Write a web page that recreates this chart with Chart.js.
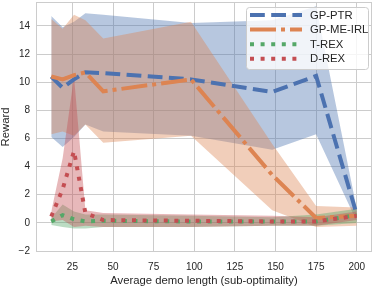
<!DOCTYPE html>
<html lang="en">
<head>
    <meta charset="UTF-8">
    <title>Reward vs demo length</title>
    <style>
        html, body { margin: 0; padding: 0; background: #ffffff; }
        canvas { display: block; }
    </style>
</head>
<body>
    <canvas id="rewardChart" width="374" height="286"></canvas>

    <script src="https://cdn.jsdelivr.net/npm/chart.js"></script>
    <script>
        // Average demo length of each run
        const demoLengths = [12, 19, 26, 33, 44, 98, 148, 175, 200];

        // GP-PTR
        const ptrMean  = [10.4, 9.6, 10.2, 10.7, 10.65, 10.2, 9.3, 10.45, 0.6];
        const ptrUpper = [14.7, 13.9, 14.3, 14.9, 14.8, 14.2, 14.4, 15.4, 1.0];
        const ptrLower = [6.1, 5.4, 6.1, 7.0, 6.5, 6.2, 5.2, 6.3, 0.1];

        // GP-ME-IRL
        const meMean  = [10.4, 10.2, 10.5, 10.7, 9.35, 10.2, 3.4, 0.35, 0.5];
        const meUpper = [14.5, 13.8, 14.8, 14.4, 13.1, 14.3, 5.6, 1.2, 1.1];
        const meLower = [6.3, 6.5, 6.2, 7.0, 5.7, 6.2, 0.9, -0.3, -0.2];

        // T-REX
        const trexMean  = [0.1, 0.55, 0.25, 0.1, 0.15, 0.1, 0.1, 0.1, 0.55];
        const trexUpper = [0.35, 1.3, 0.8, 0.6, 0.6, 0.5, 0.4, 0.6, 1.0];
        const trexLower = [-0.15, -0.3, -0.4, -0.4, -0.3, -0.3, -0.2, -0.2, 0.0];

        // D-REX
        const drexMean  = [0.45, 2.4, 5.1, 0.7, 0.2, 0.15, 0.1, 0.1, 0.5];
        const drexUpper = [0.8, 4.6, 10.4, 0.9, 0.7, 0.6, 0.5, 0.4, 0.8];
        const drexLower = [0.1, 0.2, -0.3, -0.2, -0.3, -0.3, -0.2, -0.2, 0.2];

        const xTicks = [25, 50, 75, 100, 125, 150, 175, 200];
        const yTicks = [-2, 0, 2, 4, 6, 8, 10, 12, 14];
        const seriesNames = ['GP-PTR', 'GP-ME-IRL', 'T-REX', 'D-REX'];

        const colors = ['#4c72b0', '#dd8452', '#55a868', '#c44e52'];
        const bandColors = [
            'rgba(76, 114, 176, 0.4)',
            'rgba(221, 132, 82, 0.4)',
            'rgba(85, 168, 104, 0.4)',
            'rgba(196, 78, 82, 0.4)'
        ];
        const dashes = [[14.8, 6.4], [26, 5, 4, 5], [4, 6.6], [4, 6.6]];

        const textColor = '#262626';
        const gridColor = '#cccccc';
        const fontFamily = '"Liberation Sans", Arial, sans-serif';

        function pts(arr) {
            return arr.map((y, i) => ({ x: demoLengths[i], y: y }));
        }

        const means = [ptrMean, meMean, trexMean, drexMean];
        const uppers = [ptrUpper, meUpper, trexUpper, drexUpper];
        const lowers = [ptrLower, meLower, trexLower, drexLower];

        // bands first (upper fills down to the lower one right after it), then the lines
        const datasets = [];
        for (let i = 0; i < 4; i++) {
            datasets.push({
                label: seriesNames[i] + ' upper',
                data: pts(uppers[i]),
                borderColor: 'transparent',
                borderWidth: 0,
                pointRadius: 0,
                backgroundColor: bandColors[i],
                fill: '+1',
                order: 20 - i * 2
            });
            datasets.push({
                label: seriesNames[i] + ' lower',
                data: pts(lowers[i]),
                borderColor: 'transparent',
                borderWidth: 0,
                pointRadius: 0,
                fill: false,
                order: 19 - i * 2
            });
        }
        for (let i = 0; i < 4; i++) {
            datasets.push({
                label: seriesNames[i],
                data: pts(means[i]),
                borderColor: colors[i],
                borderWidth: 4,
                borderDash: dashes[i],
                borderCapStyle: 'butt',
                pointRadius: 0,
                fill: false,
                order: 3 - i
            });
        }

        // light grey frame round the plot, like the seaborn whitegrid style
        const framePlugin = {
            id: 'frame',
            beforeDatasetsDraw(chart) {
                const a = chart.chartArea;
                const ctx = chart.ctx;
                ctx.save();
                ctx.strokeStyle = gridColor;
                ctx.lineWidth = 1;
                ctx.strokeRect(a.left + 0.5, a.top + 0.5, a.right - a.left - 1, a.bottom - a.top - 1);
                ctx.restore();
            }
        };

        // legend with the dash patterns of the lines
        const legendPlugin = {
            id: 'dashLegend',
            afterDraw(chart) {
                const ctx = chart.ctx;
                const bx = 246, by = 7, bw = 122, bh = 62;
                ctx.save();
                ctx.beginPath();
                ctx.roundRect(bx + 0.5, by + 0.5, bw, bh, 3);
                ctx.fillStyle = 'rgba(255, 255, 255, 0.8)';
                ctx.fill();
                ctx.strokeStyle = gridColor;
                ctx.lineWidth = 1;
                ctx.stroke();

                ctx.font = '11.3px ' + fontFamily;
                ctx.textBaseline = 'middle';
                ctx.fillStyle = textColor;
                for (let i = 0; i < seriesNames.length; i++) {
                    const y = 15 + i * 14.6;
                    ctx.beginPath();
                    ctx.setLineDash(dashes[i]);
                    ctx.lineCap = 'butt';
                    ctx.strokeStyle = colors[i];
                    ctx.lineWidth = 4;
                    ctx.moveTo(250, y);
                    ctx.lineTo(302, y);
                    ctx.stroke();
                    ctx.setLineDash([]);
                    ctx.fillText(seriesNames[i], 310, y + 0.5);
                }
                ctx.restore();
            }
        };

        const ctx = document.getElementById('rewardChart').getContext('2d');
        const rewardChart = new Chart(ctx, {
            type: 'line',
            data: { datasets: datasets },
            options: {
                responsive: false,
                animation: false,
                layout: { padding: { top: 2, right: 2, left: 0, bottom: 0 } },
                plugins: {
                    legend: { display: false },
                    tooltip: { enabled: false }
                },
                scales: {
                    x: {
                        type: 'linear',
                        min: 2.6,
                        max: 209.4,
                        afterBuildTicks: (s) => { s.ticks = xTicks.map(v => ({ value: v })); },
                        afterFit: (s) => { s.height = 34; s.paddingLeft = 0; s.paddingRight = 0; },
                        grid: { color: gridColor, drawTicks: false },
                        border: { display: false },
                        ticks: {
                            padding: 9,
                            color: textColor,
                            font: { family: fontFamily, size: 10 }
                        },
                        title: {
                            display: true,
                            text: 'Average demo length (sub-optimality)',
                            color: textColor,
                            padding: { top: 0, bottom: -2 },
                            font: { family: fontFamily, size: 11.3 }
                        }
                    },
                    y: {
                        min: -2.07,
                        max: 15.7,
                        afterBuildTicks: (s) => { s.ticks = yTicks.map(v => ({ value: v })); },
                        afterFit: (s) => { s.width = 36; s.paddingTop = 0; s.paddingBottom = 0; },
                        grid: { color: gridColor, drawTicks: false },
                        border: { display: false },
                        ticks: {
                            padding: 6,
                            color: textColor,
                            font: { family: fontFamily, size: 10 },
                            callback: (v) => String(v).replace('-', '\u2212')
                        },
                        title: {
                            display: true,
                            text: 'Reward',
                            color: textColor,
                            padding: { top: -1, bottom: 0 },
                            font: { family: fontFamily, size: 11.3 }
                        }
                    }
                }
            },
            plugins: [framePlugin, legendPlugin]
        });
    </script>
</body>
</html>
